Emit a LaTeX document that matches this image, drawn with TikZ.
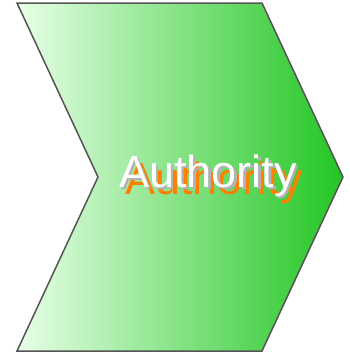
\documentclass[tikz,border=0pt]{standalone}
\usepackage{fontspec}
\setmainfont{Liberation Sans}
\definecolor{chevronedge}{HTML}{555555}
\definecolor{chevronleft}{HTML}{E8FFE8}
\definecolor{chevronmid}{HTML}{B4EBB4}
\definecolor{chevronright}{HTML}{22C622}
\definecolor{glow}{HTML}{FF8000}
\tikzset{
  labeltext/.style={font=\fontsize{45}{54}\selectfont, anchor=base, inner sep=0pt}
}
\begin{document}
\begin{tikzpicture}[x=1pt,y=-1pt]
    \useasboundingbox (0,0) rectangle (350,354);
    % Chevron
    \draw[line width=1.5pt, draw=chevronedge, left color=chevronleft, middle color=chevronmid, right color=chevronright]
        (17,3) -- (262,3) -- (343,177) -- (262,351) -- (17,351) -- (98,177) -- cycle;

    % Label with shadows
    \node[labeltext, text=glow] (labelglow) at (214,194) {Authority};
    \node[labeltext, text=gray!60] (labelshadow) at (210.5,189.5) {Authority};
    \node[labeltext, text=white] (label) at (208,187) {Authority};
\end{tikzpicture}
\end{document}
